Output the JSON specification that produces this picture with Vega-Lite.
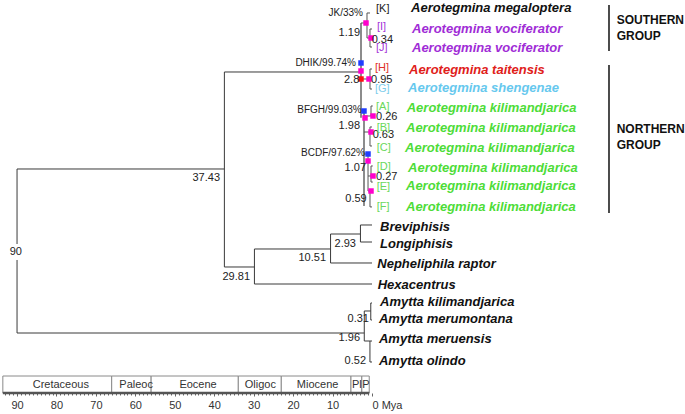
{
  "$schema": "https://vega.github.io/schema/vega-lite/v6.json",
  "width": 685,
  "height": 393,
  "autosize": {"type": "none"},
  "padding": {"left": 0, "top": 0, "right": 0, "bottom": 21},
  "background": "white",
  "config": {"view": {"stroke": null}, "text": {"font": "Liberation Sans"}},
  "datasets": {
    "tree": [
      {"age": 90, "age2": 90, "row": 8.214, "row2": 12.041, "part": "main"},
      {"age": 90, "age2": 90, "row": 12.857, "row2": 16.582, "part": "main"},
      {"age": 90, "age2": 37.43, "row": 8.214, "row2": 8.214, "part": "main"},
      {"age": 90, "age2": 1.96, "row": 16.582, "row2": 16.582, "part": "main"},
      {"age": 37.43, "age2": 37.43, "row": 3.265, "row2": 13.214, "part": "main"},
      {"age": 37.43, "age2": 2.79, "row": 3.265, "row2": 3.265, "part": "main"},
      {"age": 37.43, "age2": 29.81, "row": 13.214, "row2": 13.214, "part": "main"},
      {"age": 29.81, "age2": 29.81, "row": 12.296, "row2": 14.082, "part": "main"},
      {"age": 29.81, "age2": 10.51, "row": 12.296, "row2": 12.296, "part": "main"},
      {"age": 29.81, "age2": 0, "row": 14.082, "row2": 14.082, "part": "main"},
      {"age": 10.51, "age2": 10.51, "row": 11.531, "row2": 13.01, "part": "main"},
      {"age": 10.51, "age2": 2.93, "row": 11.531, "row2": 11.531, "part": "main"},
      {"age": 10.51, "age2": 0, "row": 13.01, "row2": 13.01, "part": "main"},
      {"age": 2.93, "age2": 2.93, "row": 11.071, "row2": 11.939, "part": "main"},
      {"age": 2.93, "age2": 0, "row": 11.071, "row2": 11.071, "part": "main"},
      {"age": 2.93, "age2": 0, "row": 11.939, "row2": 11.939, "part": "main"},
      {"age": 1.96, "age2": 1.96, "row": 15.459, "row2": 16.99, "part": "main"},
      {"age": 1.96, "age2": 0.31, "row": 15.459, "row2": 15.459, "part": "main"},
      {"age": 1.96, "age2": 0.52, "row": 16.99, "row2": 16.99, "part": "main"},
      {"age": 0.31, "age2": 0.31, "row": 15.051, "row2": 15.918, "part": "main"},
      {"age": 0.31, "age2": 0, "row": 15.051, "row2": 15.051, "part": "main"},
      {"age": 0.31, "age2": 0, "row": 15.918, "row2": 15.918, "part": "main"},
      {"age": 0.52, "age2": 0.52, "row": 16.99, "row2": 18.061, "part": "main"},
      {"age": 0.52, "age2": 0, "row": 16.99, "row2": 16.99, "part": "main"},
      {"age": 0.52, "age2": 0, "row": 18.061, "row2": 18.061, "part": "main"},
      {"age": 2.79, "age2": 2.79, "row": 0.765, "row2": 5.6, "part": "backbone"},
      {"age": 2.03, "age2": 2.03, "row": 5.255, "row2": 10.1, "part": "backbone"},
      {"age": 1.27, "age2": 1.27, "row": 0.255, "row2": 1.531, "part": "bracket"},
      {"age": 1.27, "age2": 0.5, "row": 0.255, "row2": 0.255, "part": "bracket"},
      {"age": 2.79, "age2": 1.27, "row": 0.765, "row2": 0.765, "part": "bracket"},
      {"age": 0.51, "age2": 0.51, "row": 1.071, "row2": 1.99, "part": "bracket"},
      {"age": 0.51, "age2": 0, "row": 1.071, "row2": 1.071, "part": "bracket"},
      {"age": 0.51, "age2": 0, "row": 1.99, "row2": 1.99, "part": "bracket"},
      {"age": 1.27, "age2": 0.51, "row": 1.531, "row2": 1.531, "part": "bracket"},
      {"age": 0.51, "age2": 0.51, "row": 3.112, "row2": 4.133, "part": "bracket"},
      {"age": 0.51, "age2": 0, "row": 3.112, "row2": 3.112, "part": "bracket"},
      {"age": 0.51, "age2": 0, "row": 4.133, "row2": 4.133, "part": "bracket"},
      {"age": 2.79, "age2": 0.51, "row": 3.622, "row2": 3.622, "part": "bracket"},
      {"age": 0.25, "age2": 0.25, "row": 5.0, "row2": 5.51, "part": "bracket"},
      {"age": 0.25, "age2": -0.2, "row": 5.0, "row2": 5.0, "part": "bracket"},
      {"age": 2.03, "age2": 0.25, "row": 5.51, "row2": 5.51, "part": "bracket"},
      {"age": 0.51, "age2": 0.51, "row": 6.07, "row2": 7.04, "part": "bracket"},
      {"age": 0.51, "age2": 0, "row": 6.07, "row2": 6.07, "part": "bracket"},
      {"age": 0.51, "age2": 0, "row": 7.04, "row2": 7.04, "part": "bracket"},
      {"age": 2.03, "age2": 0.51, "row": 6.327, "row2": 6.327, "part": "bracket"},
      {"age": 1.01, "age2": 1.01, "row": 7.449, "row2": 9.337, "part": "bracket"},
      {"age": 2.03, "age2": 1.01, "row": 7.449, "row2": 7.449, "part": "bracket"},
      {"age": 0.25, "age2": 0.25, "row": 8.06, "row2": 8.88, "part": "bracket"},
      {"age": 0.25, "age2": -0.2, "row": 8.06, "row2": 8.06, "part": "bracket"},
      {"age": 0.25, "age2": -0.2, "row": 8.88, "row2": 8.88, "part": "bracket"},
      {"age": 1.01, "age2": 0.25, "row": 8.571, "row2": 8.571, "part": "bracket"},
      {"age": 0.51, "age2": 0.51, "row": 9.29, "row2": 10.15, "part": "bracket"},
      {"age": 0.51, "age2": 0, "row": 10.15, "row2": 10.15, "part": "bracket"},
      {"age": 1.01, "age2": 0.51, "row": 9.337, "row2": 9.337, "part": "bracket"}
    ],
    "squares": [
      {"age": 1.52, "row": 0.765, "kind": "node"},
      {"age": 0.25, "row": 1.531, "kind": "node"},
      {"age": 2.79, "row": 2.806, "kind": "split"},
      {"age": 2.79, "row": 3.214, "kind": "node"},
      {"age": 2.79, "row": 3.622, "kind": "crown"},
      {"age": 0.76, "row": 3.622, "kind": "node"},
      {"age": 2.03, "row": 5.255, "kind": "split"},
      {"age": 1.77, "row": 5.612, "kind": "node"},
      {"age": -0.25, "row": 5.51, "kind": "node"},
      {"age": 0.25, "row": 6.327, "kind": "node"},
      {"age": 1.01, "row": 7.449, "kind": "split"},
      {"age": 1.01, "row": 7.806, "kind": "node"},
      {"age": -0.25, "row": 8.571, "kind": "node"},
      {"age": 0.25, "row": 9.337, "kind": "node"}
    ],
    "nodeLabels": [
      {"label": "1.19", "age": 3.04, "row": 1.276, "kind": "age", "side": "right"},
      {"label": "2.8", "age": 3.22, "row": 3.673, "kind": "age", "side": "right"},
      {"label": "1.98", "age": 3.04, "row": 6.02, "kind": "age", "side": "right"},
      {"label": "1.07", "age": 1.52, "row": 8.163, "kind": "age", "side": "right"},
      {"label": "0.59", "age": 1.34, "row": 9.745, "kind": "age", "side": "right"},
      {"label": "37.43", "age": 38.54, "row": 8.673, "kind": "age", "side": "right"},
      {"label": "29.81", "age": 30.93, "row": 13.724, "kind": "age", "side": "right"},
      {"label": "10.51", "age": 11.66, "row": 12.755, "kind": "age", "side": "right"},
      {"label": "2.93", "age": 4.06, "row": 12.041, "kind": "age", "side": "right"},
      {"label": "0.31", "age": 0.76, "row": 15.867, "kind": "age", "side": "right"},
      {"label": "1.96", "age": 3.04, "row": 16.837, "kind": "age", "side": "right"},
      {"label": "0.52", "age": 1.52, "row": 18.01, "kind": "age", "side": "right"},
      {"label": "0.34", "age": 0.08, "row": 1.633, "kind": "age", "side": "left"},
      {"label": "0.95", "age": 0.25, "row": 3.673, "kind": "age", "side": "left"},
      {"label": "0.26", "age": -1.01, "row": 5.561, "kind": "age", "side": "left"},
      {"label": "0.63", "age": -0.17, "row": 6.48, "kind": "age", "side": "left"},
      {"label": "0.27", "age": -1.01, "row": 8.622, "kind": "age", "side": "left"},
      {"label": "90", "age": 90.3, "row": 12.449, "kind": "age", "side": "center"},
      {"label": "JK/33%", "age": 2.28, "row": 0.255, "kind": "support", "side": "right"},
      {"label": "DHIK/99.74%", "age": 4.06, "row": 2.806, "kind": "support", "side": "right"},
      {"label": "BFGH/99.03%", "age": 2.6, "row": 5.204, "kind": "support", "side": "right"},
      {"label": "BCDF/97.62%", "age": 1.77, "row": 7.398, "kind": "support", "side": "right"}
    ],
    "tips": [
      {"label": "Aerotegmina megaloptera", "age": -9.89, "row": 0.0, "clade": "megaloptera"},
      {"label": "Aerotegmina vociferator", "age": -10.14, "row": 1.071, "clade": "vociferator"},
      {"label": "Aerotegmina vociferator", "age": -10.14, "row": 2.04, "clade": "vociferator"},
      {"label": "Aerotegmina taitensis", "age": -9.38, "row": 3.163, "clade": "taitensis"},
      {"label": "Aerotegmina shengenae", "age": -9.13, "row": 4.08, "clade": "shengenae"},
      {"label": "Aerotegmina kilimandjarica", "age": -8.8, "row": 5.1, "clade": "kilimandjarica"},
      {"label": "Aerotegmina kilimandjarica", "age": -8.62, "row": 6.12, "clade": "kilimandjarica"},
      {"label": "Aerotegmina kilimandjarica", "age": -8.37, "row": 7.14, "clade": "kilimandjarica"},
      {"label": "Aerotegmina kilimandjarica", "age": -9.13, "row": 8.16, "clade": "kilimandjarica"},
      {"label": "Aerotegmina kilimandjarica", "age": -8.62, "row": 9.08, "clade": "kilimandjarica"},
      {"label": "Aerotegmina kilimandjarica", "age": -8.62, "row": 10.15, "clade": "kilimandjarica"},
      {"label": "Breviphisis", "age": -2.03, "row": 11.17, "clade": "outgroup"},
      {"label": "Longiphisis", "age": -2.03, "row": 12.04, "clade": "outgroup"},
      {"label": "Nepheliphila raptor", "age": -1.34, "row": 13.06, "clade": "outgroup"},
      {"label": "Hexacentrus", "age": -1.45, "row": 14.13, "clade": "outgroup"},
      {"label": "Amytta kilimandjarica", "age": -2.03, "row": 15.0, "clade": "outgroup"},
      {"label": "Amytta merumontana", "age": -1.77, "row": 15.87, "clade": "outgroup"},
      {"label": "Amytta meruensis", "age": -1.77, "row": 16.89, "clade": "outgroup"},
      {"label": "Amytta olindo", "age": -1.77, "row": 18.01, "clade": "outgroup"}
    ],
    "codes": [
      {"label": "[K]", "age": -1.01, "row": 0.05, "clade": "megaloptera"},
      {"label": "[I]", "age": -1.27, "row": 0.969, "clade": "vociferator"},
      {"label": "[J]", "age": -1.01, "row": 2.04, "clade": "vociferator"},
      {"label": "[H]", "age": -0.76, "row": 3.06, "clade": "taitensis"},
      {"label": "[G]", "age": -0.76, "row": 4.13, "clade": "shengenae"},
      {"label": "[A]", "age": -1.01, "row": 5.05, "clade": "kilimandjarica"},
      {"label": "[B]", "age": -1.18, "row": 6.12, "clade": "kilimandjarica"},
      {"label": "[C]", "age": -1.18, "row": 7.14, "clade": "kilimandjarica"},
      {"label": "[D]", "age": -1.18, "row": 8.11, "clade": "kilimandjarica"},
      {"label": "[E]", "age": -1.18, "row": 9.13, "clade": "kilimandjarica"},
      {"label": "[F]", "age": -1.18, "row": 10.15, "clade": "kilimandjarica"}
    ],
    "groupBars": [
      {"age": -60.09, "row": -0.153, "row2": 2.194},
      {"age": -60.09, "row": 2.908, "row2": 10.459}
    ],
    "groupText": [
      {"label": "SOUTHERN", "age": -62.04, "row": 0.612},
      {"label": "GROUP", "age": -62.04, "row": 1.429},
      {"label": "NORTHERN", "age": -62.04, "row": 6.173},
      {"label": "GROUP", "age": -62.04, "row": 6.99}
    ],
    "periods": [
      {"name": "Cretaceous", "age": 93.6, "age2": 66, "row": 18.776, "row2": 19.643},
      {"name": "Paleoc", "age": 66, "age2": 56, "row": 18.776, "row2": 19.643},
      {"name": "Eocene", "age": 56, "age2": 33.9, "row": 18.776, "row2": 19.643},
      {"name": "Oligoc", "age": 33.9, "age2": 23, "row": 18.776, "row2": 19.643},
      {"name": "Miocene", "age": 23, "age2": 5.33, "row": 18.776, "row2": 19.643},
      {"name": "Pl", "age": 5.33, "age2": 2.58, "row": 18.776, "row2": 19.643},
      {"name": "P", "age": 2.58, "age2": 0.7, "row": 18.776, "row2": 19.643}
    ],
    "periodLabels": [
      {"name": "Cretaceous", "age": 78.9, "row": 19.235},
      {"name": "Paleoc", "age": 59.8, "row": 19.235},
      {"name": "Eocene", "age": 44.1, "row": 19.235},
      {"name": "Oligoc", "age": 28.3, "row": 19.235},
      {"name": "Miocene", "age": 13.8, "row": 19.235},
      {"name": "Pl", "age": 3.85, "row": 19.235},
      {"name": "P", "age": 1.55, "row": 19.235}
    ],
    "ruler": [
      {"age": 93.6, "age2": 0.7, "row": 19.643}
    ]
  },
  "encoding": {
    "x": {
      "field": "age",
      "type": "quantitative",
      "scale": {"domain": [94.32, -79.36], "nice": false, "zero": false},
      "axis": {
        "title": null,
        "domain": false,
        "grid": false,
        "values": [0,1,2,3,4,5,6,7,8,9,10,11,12,13,14,15,16,17,18,19,20,21,22,23,24,25,26,27,28,29,30,31,32,33,34,35,36,37,38,39,40,41,42,43,44,45,46,47,48,49,50,51,52,53,54,55,56,57,58,59,60,61,62,63,64,65,66,67,68,69,70,71,72,73,74,75,76,77,78,79,80,81,82,83,84,85,86,87,88,89,90,91,92,93],
        "tickColor": "#666",
        "tickWidth": 1,
        "tickSize": {"condition": {"test": "datum.value % 10 == 0", "value": 3}, "value": 2},
        "labelExpr": "datum.value % 10 == 0 ? (datum.value == 0 ? '0 Mya' : datum.label) : ''",
        "labelAlign": {"condition": {"test": "datum.value == 0", "value": "left"}, "value": "center"},
        "labelFont": "Liberation Sans",
        "labelFontSize": 11,
        "labelColor": "#333",
        "labelPadding": 3,
        "labelOverlap": false,
        "labelFlush": false
      }
    },
    "y": {
      "field": "row",
      "type": "quantitative",
      "scale": {"domain": [-0.408, 19.643], "reverse": true, "nice": false, "zero": false},
      "axis": null
    }
  },
  "layer": [
    {
      "data": {"name": "periods"},
      "mark": {"type": "rect", "fill": "white", "stroke": "#8a8a8a", "strokeWidth": 1},
      "encoding": {"x2": {"field": "age2"}, "y2": {"field": "row2"}}
    },
    {
      "data": {"name": "periodLabels"},
      "mark": {"type": "text", "fontSize": 11, "color": "#333", "baseline": "middle", "align": "center"},
      "encoding": {"text": {"field": "name"}}
    },
    {
      "data": {"name": "ruler"},
      "mark": {"type": "rule", "color": "#555", "strokeWidth": 2.5},
      "encoding": {"x2": {"field": "age2"}}
    },
    {
      "data": {"name": "tree"},
      "transform": [{"filter": "datum.part == 'main'"}],
      "mark": {"type": "rule", "color": "#3a3a3a", "strokeWidth": 1},
      "encoding": {"x2": {"field": "age2"}, "y2": {"field": "row2"}}
    },
    {
      "data": {"name": "tree"},
      "transform": [{"filter": "datum.part == 'backbone'"}],
      "mark": {"type": "rule", "color": "#8c8c8c", "strokeWidth": 2},
      "encoding": {"x2": {"field": "age2"}, "y2": {"field": "row2"}}
    },
    {
      "data": {"name": "tree"},
      "transform": [{"filter": "datum.part == 'bracket'"}],
      "mark": {"type": "rule", "color": "#555", "strokeWidth": 1},
      "encoding": {"x2": {"field": "age2"}, "y2": {"field": "row2"}}
    },
    {
      "data": {"name": "squares"},
      "mark": {"type": "point", "shape": "square", "filled": true, "size": 30, "opacity": 1},
      "encoding": {
        "color": {"field": "kind", "type": "nominal", "scale": {"domain": ["node", "split", "crown"], "range": ["#ff00cc", "#1f3dff", "#ff1010"]}, "legend": null}
      }
    },
    {
      "data": {"name": "nodeLabels"},
      "transform": [{"filter": "datum.kind == 'age' && datum.side == 'right'"}],
      "mark": {"type": "text", "fontSize": 11, "color": "#222", "align": "right", "baseline": "middle"},
      "encoding": {"text": {"field": "label"}}
    },
    {
      "data": {"name": "nodeLabels"},
      "transform": [{"filter": "datum.kind == 'age' && datum.side == 'left'"}],
      "mark": {"type": "text", "fontSize": 11, "color": "#222", "align": "left", "baseline": "middle"},
      "encoding": {"text": {"field": "label"}}
    },
    {
      "data": {"name": "nodeLabels"},
      "transform": [{"filter": "datum.side == 'center'"}],
      "mark": {"type": "text", "fontSize": 11, "color": "#222", "align": "center", "baseline": "middle"},
      "encoding": {"text": {"field": "label"}}
    },
    {
      "data": {"name": "nodeLabels"},
      "transform": [{"filter": "datum.kind == 'support'"}],
      "mark": {"type": "text", "fontSize": 10, "color": "#222", "align": "right", "baseline": "middle"},
      "encoding": {"text": {"field": "label"}}
    },
    {
      "data": {"name": "codes"},
      "mark": {"type": "text", "fontSize": 11, "align": "left", "baseline": "middle"},
      "encoding": {
        "text": {"field": "label"},
        "color": {"field": "clade", "type": "nominal", "scale": {"domain": ["megaloptera", "vociferator", "taitensis", "shengenae", "kilimandjarica", "outgroup"], "range": ["#222222", "#a535d8", "#e0302a", "#7ccdeb", "#6ad85a", "#111111"]}, "legend": null}
      }
    },
    {
      "data": {"name": "tips"},
      "mark": {"type": "text", "fontSize": 13, "fontWeight": "bold", "fontStyle": "italic", "align": "left", "baseline": "middle"},
      "encoding": {
        "text": {"field": "label"},
        "color": {"field": "clade", "type": "nominal", "scale": {"domain": ["megaloptera", "vociferator", "taitensis", "shengenae", "kilimandjarica", "outgroup"], "range": ["#111111", "#a02cd6", "#e0201a", "#66c8ee", "#4ddc38", "#111111"]}, "legend": null}
      }
    },
    {
      "data": {"name": "groupBars"},
      "mark": {"type": "rule", "color": "#111", "strokeWidth": 1.5},
      "encoding": {"y2": {"field": "row2"}}
    },
    {
      "data": {"name": "groupText"},
      "mark": {"type": "text", "fontSize": 12, "fontWeight": "bold", "color": "#111", "align": "left", "baseline": "middle"},
      "encoding": {"text": {"field": "label"}}
    }
  ],
  "resolve": {"scale": {"color": "independent"}}
}
